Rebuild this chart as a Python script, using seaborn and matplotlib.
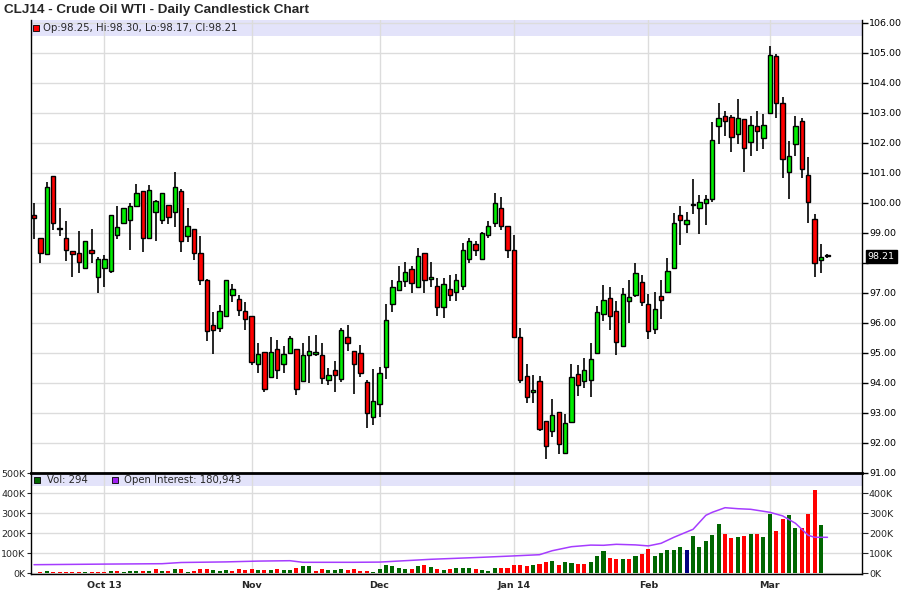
import matplotlib
matplotlib.use("Agg")
import matplotlib.pyplot as plt
import matplotlib.transforms as mtransforms
from matplotlib.ticker import FixedLocator, FixedFormatter
import seaborn as sns
import numpy as np
import pandas as pd

# daily OHLC, trading days from 2013-09-16 to 2014-03-14
opens = [99.58, 98.81, 98.28, 100.88, 99.13, 98.84, 98.38, 98.34, 97.84, 98.44,
         97.54, 97.84, 97.74, 98.94, 99.34, 99.44, 99.88, 100.38, 98.84, 99.68,
         99.41, 99.91, 99.68, 100.38, 98.88, 99.14, 98.31, 97.41, 95.91, 95.81,
         96.21, 96.94, 96.78, 96.38, 96.24, 94.61, 95.04, 94.19, 95.11, 94.61,
         94.98, 95.11, 94.07, 94.94, 94.97, 94.94, 94.10, 94.42, 94.13, 95.53,
         95.07, 95.00, 94.03, 92.85, 93.28, 94.51, 96.64, 97.08, 97.38, 97.78,
         97.18, 98.31, 97.47, 97.24, 96.54, 97.11, 97.01, 97.24, 98.11, 98.61,
         98.14, 98.91, 99.31, 99.84, 99.24, 98.44, 95.54, 94.21, 93.70, 94.04,
         92.73, 92.40, 93.02, 91.67, 92.70, 94.30, 94.07, 94.10, 95.00, 96.30,
         96.83, 96.40, 95.23, 96.73, 96.93, 97.37, 96.63, 95.80, 96.90, 97.01,
         97.84, 99.60, 99.30, 99.92, 99.83, 100.00, 100.13, 102.57, 102.89, 102.87,
         102.30, 102.80, 102.03, 102.57, 102.17, 103.00, 104.90, 103.33, 101.03, 101.97,
         102.73, 100.93, 99.47, 98.10, 98.25]
highs = [100.00, 98.81, 100.68, 100.88, 99.81, 99.39, 98.38, 99.07, 98.74, 99.12,
         98.19, 98.26, 99.58, 99.89, 99.84, 99.98, 100.64, 100.38, 100.59, 100.09,
         100.31, 99.91, 101.02, 100.45, 99.81, 99.14, 98.89, 97.45, 96.36, 96.59,
         97.41, 97.29, 96.92, 96.69, 96.24, 95.31, 95.04, 95.53, 95.42, 95.23,
         95.57, 95.11, 95.33, 95.57, 95.60, 95.33, 94.50, 94.73, 95.83, 95.93,
         95.07, 95.27, 94.10, 94.45, 94.52, 96.64, 97.42, 97.89, 98.02, 97.89,
         98.49, 98.31, 98.02, 97.48, 97.49, 97.59, 97.64, 98.66, 98.84, 98.74,
         99.01, 99.38, 100.34, 100.19, 99.24, 98.94, 95.81, 94.64, 94.26, 94.21,
         92.73, 93.47, 93.02, 92.97, 94.63, 94.60, 94.83, 95.33, 96.57, 97.27,
         97.20, 96.74, 97.17, 97.43, 98.00, 97.60, 96.97, 97.03, 97.43, 98.17,
         99.67, 99.90, 99.70, 100.80, 100.27, 100.27, 102.68, 103.31, 103.06, 102.94,
         103.47, 102.80, 102.90, 103.07, 102.97, 105.23, 104.97, 103.53, 102.07, 102.90,
         102.83, 101.53, 99.63, 98.61, 98.30]
lows = [98.79, 97.98, 98.28, 99.09, 98.89, 98.06, 97.53, 97.67, 97.84, 98.00,
        97.00, 97.20, 97.67, 98.80, 99.28, 98.44, 99.88, 98.37, 98.78, 98.73,
        99.28, 99.30, 99.20, 98.37, 98.70, 98.09, 97.27, 95.40, 94.97, 95.70,
        96.21, 96.70, 96.24, 95.77, 94.60, 94.32, 93.70, 94.16, 94.14, 94.32,
        94.98, 93.60, 94.07, 93.99, 94.89, 93.96, 93.93, 93.69, 94.03, 95.06,
        93.62, 94.20, 92.50, 92.60, 92.87, 94.12, 96.37, 97.08, 97.18, 97.00,
        97.18, 97.00, 97.18, 96.23, 96.17, 96.73, 96.73, 97.08, 97.98, 98.21,
        98.14, 98.84, 99.18, 99.08, 98.17, 95.48, 93.98, 93.33, 93.34, 92.39,
        91.47, 92.20, 91.63, 91.67, 92.70, 93.57, 93.83, 93.53, 94.97, 96.07,
        95.77, 94.93, 95.23, 96.00, 96.87, 96.57, 95.47, 95.63, 96.13, 97.01,
        97.84, 98.60, 99.00, 99.63, 98.97, 99.27, 100.02, 101.96, 102.23, 101.69,
        101.96, 101.02, 101.56, 101.73, 101.80, 102.97, 102.83, 100.83, 100.13, 101.57,
        100.83, 99.32, 97.52, 97.67, 98.17]
closes = [99.48, 98.31, 100.54, 99.31, 99.13, 98.44, 98.28, 98.03, 98.74, 98.34,
          98.14, 98.11, 99.58, 99.18, 99.84, 99.90, 100.31, 98.81, 100.44, 100.06,
          100.31, 99.54, 100.51, 98.74, 99.21, 98.34, 97.41, 95.71, 95.76, 96.39,
          97.41, 97.11, 96.41, 96.11, 94.68, 94.97, 93.78, 95.01, 94.44, 94.97,
          95.50, 93.78, 94.93, 95.06, 94.97, 94.16, 94.27, 94.27, 95.77, 95.33,
          94.63, 94.33, 93.00, 93.40, 94.32, 96.08, 97.18, 97.38, 97.68, 97.31,
          98.21, 97.41, 97.47, 96.54, 97.28, 96.94, 97.41, 98.41, 98.74, 98.44,
          98.98, 99.21, 99.98, 99.24, 98.44, 95.54, 94.08, 93.54, 93.70, 92.47,
          91.89, 92.93, 91.97, 92.67, 94.20, 93.93, 94.43, 94.80, 96.37, 96.77,
          96.23, 95.37, 96.97, 96.87, 97.67, 96.70, 95.73, 96.47, 96.77, 97.74,
          99.33, 99.43, 99.43, 99.92, 100.03, 100.12, 102.10, 102.82, 102.73, 102.20,
          102.83, 101.83, 102.60, 102.40, 102.60, 104.93, 103.33, 101.47, 101.57, 102.57,
          101.13, 100.03, 98.00, 98.20, 98.21]

# volume in thousands and its colour code (g = up, r = down, b = marked day)
volume_k = [0, 7, 12, 7, 7, 7, 7, 7, 7, 7,
            7, 7, 12, 12, 7, 12, 12, 12, 12, 22,
            12, 12, 22, 22, 7, 12, 22, 22, 17, 12,
            17, 12, 22, 17, 22, 17, 17, 17, 22, 17,
            17, 27, 37, 37, 12, 22, 17, 17, 22, 17,
            22, 12, 12, 7, 22, 42, 37, 27, 22, 22,
            37, 42, 32, 22, 17, 22, 27, 27, 27, 22,
            17, 12, 27, 27, 27, 42, 42, 37, 42, 47,
            57, 62, 42, 57, 52, 47, 47, 57, 87, 112,
            77, 72, 72, 72, 87, 97, 122, 87, 102, 115,
            117, 132, 117, 187, 132, 162, 192, 247, 197, 177,
            182, 187, 197, 197, 182, 297, 212, 272, 292, 227,
            227, 297, 417, 242, 0.294]
volume_dir = list("rrgrrrrrgr"
                  "rrgrgggrgr"
                  "grgrgrrrgg"
                  "grrrrgrgrg"
                  "grggrrgggr"
                  "rrrggggggr"
                  "grgrgrgggr"
                  "gggrrrrrgr"
                  "rgrggrrggg"
                  "rrgrgrrggg"
                  "ggbgggggrr"
                  "grgrggrrgg"
                  "rrrgr")

# open interest (thousands), read at selected days
oi_day = [0, 11, 20, 23, 30, 35, 40, 42, 44, 50, 54, 62, 70, 75, 79, 81, 84, 87,
          89, 91, 94, 96, 98, 100, 103, 105, 106, 108, 110, 112, 115, 117, 119,
          121, 122, 124]
oi_k = [43, 46, 48, 54, 57, 61, 63, 55, 55, 55, 56, 70, 80, 87, 93, 113, 133, 141,
        140, 145, 142, 137, 150, 180, 220, 290, 305, 328, 323, 320, 305, 287, 250,
        190, 180, 180]

month_day = [11, 34, 54, 75, 96, 115]
month_labels = ["Oct 13", "Nov", "Dec", "Jan 14", "Feb", "Mar"]
price_ticks = list(range(91, 107))
vol_ticks = [0, 100, 200, 300, 400, 500]

df = pd.DataFrame({"open": opens, "high": highs, "low": lows, "close": closes,
                   "vol": volume_k, "dir": volume_dir})
df["day"] = np.arange(len(df))

sns.set_style("white")
plt.rcParams["font.family"] = ["DejaVu Sans"]

UP, DOWN = "#00EE00", "#FF0000"
GRID = "#DCDCDC"
BAND = "#E3E3FA"

W, H = 908, 591
fig = plt.figure(figsize=(W / 100, H / 100), dpi=100)
ax = fig.add_axes([31 / W, (H - 473) / H, 831 / W, 453 / H])
axv = fig.add_axes([31 / W, (H - 574) / H, 831 / W, 101 / H], sharex=ax)

# ---- price panel
ax.set_xlim(-0.47, 129.4)
ax.set_ylim(90.99, 106.09)
ax.set_axisbelow(True)
ax.axhspan(105.56, 106.2, color=BAND, zorder=0.1, lw=0)
ax.grid(True, color=GRID, lw=1)
ax.xaxis.set_major_locator(FixedLocator(month_day))
ax.tick_params(axis="x", bottom=False, labelbottom=False)

body_bottom = np.minimum(df["open"], df["close"])
body_h = np.maximum((df["close"] - df["open"]).abs(), 0.04)
fills = np.where(df["close"] >= df["open"], UP, DOWN)
ax.vlines(df["day"], df["low"], df["high"], color="black", lw=1.2, zorder=2)
ax.bar(df["day"], body_h, bottom=body_bottom, width=0.68, color=fills,
       edgecolor="black", lw=1, zorder=3)

ax.yaxis.tick_right()
ax.yaxis.set_major_locator(FixedLocator(price_ticks))
ax.yaxis.set_major_formatter(FixedFormatter(
    ["" if p == 98 else f"{p:.2f}" for p in price_ticks]))
ax.tick_params(axis="y", direction="out", length=4, width=1, pad=1,
               labelsize=6.8, right=True, left=False, colors="black")
for s in ["top", "bottom"]:
    ax.spines[s].set_visible(False)
for s in ["left", "right"]:
    ax.spines[s].set_color("black")
    ax.spines[s].set_linewidth(1)

last = df.iloc[-1]
blend = mtransforms.blended_transform_factory(ax.transAxes, ax.transData)
ax.text(1.007, last["close"], f"{last['close']:.2f}", transform=blend,
        color="white", fontsize=6.8, va="center", ha="left",
        bbox=dict(facecolor="black", edgecolor="black", pad=1.2))

ax.scatter([0.006], [0.9825], transform=ax.transAxes, marker="s", s=20,
           c=DOWN, edgecolors="black", linewidths=0.6, zorder=5, clip_on=False)
ax.text(0.014, 0.9825,
        f"Op:{last['open']:.2f}, Hi:{last['high']:.2f}, "
        f"Lo:{last['low']:.2f}, Cl:{last['close']:.2f}",
        transform=ax.transAxes, fontsize=7.3, va="center", ha="left")

# ---- volume panel
vol_colors = df["dir"].map({"g": "#006600", "r": "#FF0000", "b": "#000080"})
axv.set_ylim(-3.5, 501.5)
axv.set_axisbelow(True)
axv.axhspan(438, 520, color=BAND, zorder=0.1, lw=0)
axv.grid(True, color=GRID, lw=1)
axv.bar(df["day"], df["vol"], width=0.63, color=vol_colors, lw=0, zorder=2)
sns.lineplot(x=oi_day, y=oi_k, ax=axv, color="#A53CFF", lw=1.1, zorder=4)

axv.yaxis.set_major_locator(FixedLocator(vol_ticks))
axv.yaxis.set_major_formatter(FixedFormatter([f"{v}K" for v in vol_ticks]))
axv.tick_params(axis="y", direction="out", length=3, pad=1, labelsize=6.8,
                left=True, labelleft=True)
axv.xaxis.set_major_locator(FixedLocator(month_day))
axv.xaxis.set_major_formatter(FixedFormatter(month_labels))
axv.tick_params(axis="x", direction="out", length=3, pad=2, labelsize=6.8)
for lab in axv.get_xticklabels():
    lab.set_fontweight("bold")
axv.set_xlabel("")
axv.set_ylabel("")
for s in ["left", "right", "bottom"]:
    axv.spines[s].set_color("black")
    axv.spines[s].set_linewidth(1)
axv.spines["top"].set_color("black")
axv.spines["top"].set_linewidth(2)

axr = axv.twinx()
axr.set_ylim(axv.get_ylim())
axr.yaxis.set_major_locator(FixedLocator(vol_ticks[:-1]))
axr.yaxis.set_major_formatter(FixedFormatter([f"{v}K" for v in vol_ticks[:-1]]))
axr.tick_params(axis="y", direction="out", length=4, pad=1, labelsize=6.8)
for s in axr.spines.values():
    s.set_visible(False)

axv.scatter([0.0075], [0.93], transform=axv.transAxes, marker="s", s=20,
            c="#006600", edgecolors="black", linewidths=0.6, zorder=5)
axv.text(0.019, 0.93, "Vol: 294", transform=axv.transAxes, fontsize=7.3,
         va="center", ha="left")
axv.scatter([0.101], [0.93], transform=axv.transAxes, marker="s", s=20,
            c="#A020F0", edgecolors="black", linewidths=0.6, zorder=5)
axv.text(0.112, 0.93, "Open Interest: 180,943", transform=axv.transAxes,
         fontsize=7.3, va="center", ha="left")

fig.text(4 / W, 1 - 10 / H, "CLJ14 - Crude Oil WTI - Daily Candlestick Chart",
         fontsize=9.7, fontweight="bold", family=["Liberation Sans", "DejaVu Sans"],
         va="center", ha="left")

fig.savefig("out.png", dpi=100, facecolor="white")
